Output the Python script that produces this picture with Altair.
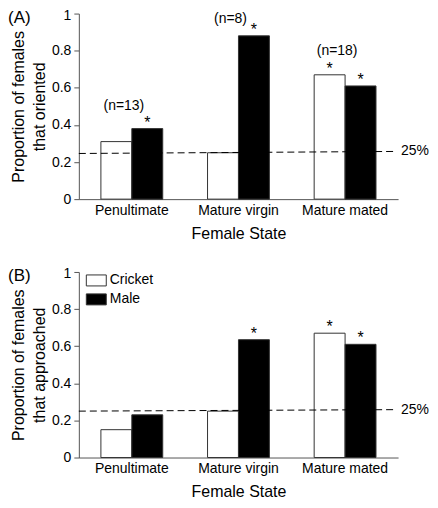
import altair as alt
import pandas as pd

# ---- data ----
states = ["Penultimate", "Mature virgin", "Mature mated"]
series = ["Cricket", "Male"]

oriented_cricket = [0.31, 0.25, 0.67]
oriented_male = [0.38, 0.88, 0.61]
approached_cricket = [0.15, 0.25, 0.67]
approached_male = [0.23, 0.635, 0.61]

sig_oriented_cricket = [False, False, True]
sig_oriented_male = [True, True, True]
sig_approached_cricket = [False, False, True]
sig_approached_male = [False, True, True]

n_labels = ["(n=13)", "(n=8)", "(n=18)"]
n_label_y = [0.50, 0.968, 0.80]

chance_left = [0.246, 0.25]
chance_right = [0.257, 0.258]
chance_text = "25%"

y_ticks = [0, 0.2, 0.4, 0.6, 0.8, 1]
panel_letters = ["(A)", "(B)"]
y_titles = [["Proportion of females", "that oriented"],
            ["Proportion of females", "that approached"]]
x_title = "Female State"

W = 320
H = 186
FONT = "Liberation Sans"


def make_panel(idx, cricket, male, sig_c, sig_m, show_legend, with_n):
    rows = []
    for s, c, m, sc, sm in zip(states, cricket, male, sig_c, sig_m):
        rows.append({"state": s, "series": "Cricket", "value": c, "sig": sc})
        rows.append({"state": s, "series": "Male", "value": m, "sig": sm})
    df = pd.DataFrame(rows)

    xscale = alt.Scale(domain=states, paddingInner=0.42, paddingOuter=0.207)
    yscale = alt.Scale(domain=[0, 1], nice=False)
    x_axis = alt.Axis(title=x_title, labelAngle=0, ticks=False, tickSize=0,
                      labelPadding=4, titlePadding=8, labelFontSize=14,
                      titleFontSize=16, titleFontWeight="normal")
    y_axis = alt.Axis(values=y_ticks, format="~g", title=y_titles[idx],
                      titleFontSize=16, titleFontWeight="normal",
                      titleLineHeight=21, labelFontSize=14, tickSize=5,
                      labelPadding=3, titlePadding=4, grid=False,
                      labelOverlap=False, labelFlush=False,
                      labelOffset={"condition": {"test": "datum.value >= 1", "value": 2},
                                   "value": 0})
    x = alt.X("state:N", sort=states, scale=xscale, axis=x_axis)
    xo = alt.XOffset("series:N",
                     scale=alt.Scale(domain=series, paddingInner=0, paddingOuter=0))
    y = alt.Y("value:Q", scale=yscale, axis=y_axis)
    if show_legend:
        leg = alt.Legend(title=None, orient="none", legendX=7, legendY=-2,
                         symbolType="M-1,-0.55H1V0.55H-1Z", symbolSize=400,
                         symbolStrokeColor="#333333", symbolStrokeWidth=1,
                         labelFontSize=14, labelOffset=3, rowPadding=1, padding=0,
                         labelColor="black")
    else:
        leg = None
    fill = alt.Fill("series:N", scale=alt.Scale(domain=series, range=["white", "black"]),
                    legend=leg)

    bars = alt.Chart(df).mark_bar(stroke="#333333", strokeWidth=1).encode(
        x=x, xOffset=xo, y=y, fill=fill)

    stars = alt.Chart(df).transform_filter("datum.sig").mark_text(
        text="*", fontSize=16, baseline="alphabetic", dy=-1, color="black").encode(
        x=x, xOffset=xo, y=y)

    line_df = pd.DataFrame({"value": [chance_left[idx]], "value2": [chance_right[idx]],
                            "label": [chance_text]})
    rule = alt.Chart(line_df).mark_rule(strokeDash=[7, 4], color="black",
                                        strokeWidth=1).encode(
        x=alt.value(0), x2=alt.value(W - 2), y=y, y2="value2:Q")
    pct = alt.Chart(line_df).mark_text(align="left", baseline="middle",
                                       fontSize=14, color="black").encode(
        x=alt.value(W + 3), y=alt.Y("value2:Q", scale=yscale, axis=y_axis),
        text="label:N")

    letter_df = pd.DataFrame({"t": [panel_letters[idx]]})
    letter = alt.Chart(letter_df).mark_text(align="left", baseline="middle",
                                            fontSize=17, color="black").encode(
        x=alt.value(-71), y=alt.value(4), text="t:N")

    layers = [bars, rule, stars, pct, letter]
    if with_n:
        n_df = pd.DataFrame({"state": states, "value": n_label_y, "label": n_labels})
        ntext = alt.Chart(n_df).mark_text(baseline="middle", fontSize=14, dx=-8,
                                          color="black").encode(
            x=x, y=y, text="label:N")
        layers.append(ntext)

    return alt.layer(*layers).properties(width=W, height=H)


panel_a = make_panel(0, oriented_cricket, oriented_male,
                     sig_oriented_cricket, sig_oriented_male, False, True)
panel_b = make_panel(1, approached_cricket, approached_male,
                     sig_approached_cricket, sig_approached_male, True, False)

chart = alt.vconcat(panel_a, panel_b, spacing=26).resolve_scale(
    fill="independent"
).properties(
    padding={"top": 0, "left": 0, "right": 0, "bottom": 0}
).configure(
    font=FONT
).configure_view(
    stroke=None
).configure_axis(
    domainColor="#555555", tickColor="#555555", labelColor="black",
    titleColor="black", labelFont=FONT, titleFont=FONT
).configure_text(font=FONT)

chart.save("out.html", embed_options={"renderer": "svg", "actions": False})
